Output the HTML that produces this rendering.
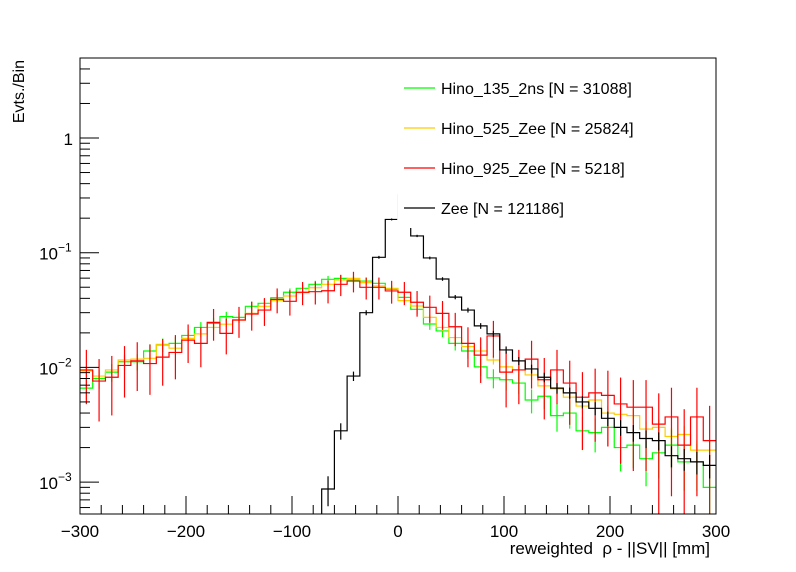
<!DOCTYPE html>
<html><head><meta charset="utf-8">
<style>
html,body{margin:0;padding:0;background:#fff;}
svg{display:block;font-family:"Liberation Sans",sans-serif;}
text{white-space:pre;}
</style></head>
<body>
<svg id="chart" width="796" height="572" viewBox="0 0 796 572" xmlns="http://www.w3.org/2000/svg">
<rect x="0" y="0" width="796" height="572" fill="#fff"/>
<defs><clipPath id="frameClip"><rect x="80" y="58" width="636" height="456"/></clipPath></defs>
<g id="plot" clip-path="url(#frameClip)"></g>
<rect id="legendbg" x="397.2" y="66" width="262" height="162" fill="#fff"/>
<g id="axes"></g>
<g id="legend"></g>
</svg>
<script>
const binEdgesMin = -300, binWidth = 12, nBins = 50;
const seriesNames = ["Hino_135_2ns [N = 31088]","Hino_525_Zee [N = 25824]","Hino_925_Zee [N = 5218]","Zee [N = 121186]"];
const seriesColors = ["#00ff00","#ffcc00","#ff0000","#000000"];
const seriesN = [31088,25824,5218,121186];
const errScale = [3,1.5,3.5,3];
const green = [0.0066,0.0080,0.0091,0.0112,0.0112,0.0139,0.0157,0.0162,0.0190,0.0223,0.0242,0.0277,0.0273,0.0341,0.0362,0.0405,0.0452,0.0489,0.0530,0.0586,0.0597,0.0578,0.0566,0.0541,0.0480,0.0408,0.0321,0.0239,0.0208,0.0162,0.0139,0.0101,0.0081,0.0078,0.0073,0.0052,0.0056,0.0038,0.0040,0.0028,0.0027,0.0030,0.0020,0.0021,0.0016,0.0018,0.0021,0.0015,0.0015,0.0009];
const yellow = [0.0093,0.0084,0.0095,0.0116,0.0118,0.0120,0.0159,0.0147,0.0179,0.0196,0.0223,0.0238,0.0259,0.0296,0.0341,0.0382,0.0419,0.0448,0.0495,0.0530,0.0578,0.0597,0.0548,0.0513,0.0489,0.0382,0.0343,0.0273,0.0223,0.0182,0.0152,0.0139,0.0116,0.0101,0.0095,0.0086,0.0069,0.0065,0.0055,0.0046,0.0052,0.0040,0.0039,0.0038,0.0029,0.0030,0.0025,0.0026,0.0019,0.0019];
const red = [0.0095,0.0076,0.0082,0.0104,0.0114,0.0108,0.0123,0.0135,0.0173,0.0162,0.0247,0.0198,0.0259,0.0292,0.0316,0.0392,0.0377,0.0452,0.0457,0.0466,0.0530,0.0566,0.0499,0.0499,0.0464,0.0452,0.0370,0.0334,0.0296,0.0226,0.0162,0.0128,0.0188,0.0091,0.0095,0.0118,0.0078,0.0095,0.0073,0.0055,0.0060,0.0057,0.0048,0.0045,0.0045,0.0032,0.0037,0.0021,0.0037,0.0023];
const zee = [0,0,0,0,0,0,0,0,0,0,0,0,0,0,0,0,0,0,0,0.00087,0.0028,0.0084,0.0300,0.0912,0.195,0.32,0.140,0.090,0.059,0.041,0.0316,0.0230,0.0196,0.0142,0.0114,0.0097,0.0082,0.0066,0.0060,0.0050,0.0044,0.0036,0.0030,0.0027,0.0024,0.0023,0.0017,0.0016,0.0015,0.0014];
const xTickLabels = ["\u2212300","\u2212200","\u2212100","0","100","200","300"];
const xTickValues = [-300,-200,-100,0,100,200,300];

const NS="http://www.w3.org/2000/svg";
const X0=80,X1=716,Y0=514,Y1=58;
const xMin=-300,xMax=300;
function xs(v){return X0+(v-xMin)/(xMax-xMin)*(X1-X0);}
function ys(v){if(v<=0)return Y0+50;return 138-Math.log10(v)*114.7;}
function mk(tag,attrs,parent){const e=document.createElementNS(NS,tag);for(const k in attrs)e.setAttribute(k,attrs[k]);parent.appendChild(e);return e;}

const plot=document.getElementById('plot');
const allSeries=[green,yellow,red,zee];
allSeries.forEach((vals,si)=>{
  const col=seriesColors[si];
  const g=mk('g',{},plot);
  
  
  let d='';let started=false;
  for(let i=0;i<nBins;i++){
    const xl=xs(binEdgesMin+i*binWidth), xr=xs(binEdgesMin+(i+1)*binWidth);
    const yv=vals[i]>0?ys(vals[i]):Y0+50;
    d+=(started?'L':'M')+xl+' '+yv;started=true;
    d+='L'+xr+' '+yv;
  }
  const p=mk('path',{d:d,fill:'none',stroke:col,'stroke-width':1.2},g);
  
  
  for(let i=0;i<nBins;i++){
    const v=vals[i]; if(v<=0)continue;
    const rel=errScale[si]/Math.sqrt(v*seriesN[si]);
    const hi=v*(1+rel), lo=v*(1-rel);
    const xc=xs(binEdgesMin+(i+0.5)*binWidth);
    const l=mk('line',{x1:xc,x2:xc,y1:ys(hi),y2:lo>0?ys(lo):Y0+10,stroke:col,'stroke-width':1.2},g);
    
    
  }
});

const axes=document.getElementById('axes');
mk('rect',{x:X0,y:Y1,width:X1-X0,height:Y0-Y1,fill:'none',stroke:'#000','stroke-width':1},axes);
for(let v=-300;v<=300;v+=20){
  const major=(v%100===0);
  const x=xs(v);
  mk('line',{x1:x,x2:x,y1:Y0,y2:Y0-(major?18:9),stroke:'#000','stroke-width':1},axes);
}
xTickValues.forEach((v,i)=>{
  const t=mk('text',{x:xs(v),y:537,'font-size':17,'text-anchor':'middle',fill:'#000'},axes);
  t.textContent=xTickLabels[i];
  
  
});
for(let e=-4;e<=1;e++){
  for(let m=1;m<=9;m++){
    const v=m*Math.pow(10,e);
    const y=ys(v);
    if(y>Y0||y<Y1)continue;
    mk('line',{x1:X0,x2:X0+(m===1?19:10),y1:y,y2:y,stroke:'#000','stroke-width':1},axes);
  }
}
const yl=[[1,'1',null],[0.1,'10','\u22121'],[0.01,'10','\u22122'],[0.001,'10','\u22123']];
yl.forEach(a=>{
  const y=ys(a[0]);
  const t=mk('text',{x:a[2]?58:73,y:y+7,'font-size':17,'text-anchor':'end',fill:'#000'},axes);
  t.textContent=a[1];
  
  
  if(a[2]){
    const s=mk('text',{x:58,y:y-1,'font-size':12,'text-anchor':'start',fill:'#000'},axes);
    s.textContent=a[2];
    
    
  }
});
const xt=mk('text',{x:710,y:554,'font-size':17,'text-anchor':'end',fill:'#000'},axes);
xt.textContent='reweighted  \u03c1 - ||SV|| [mm]';


const yt=mk('text',{x:0,y:0,'font-size':16,'text-anchor':'end',fill:'#000',transform:'translate(24,60) rotate(-90)'},axes);
yt.textContent='Evts./Bin';



const legend=document.getElementById('legend');
seriesNames.forEach((n,i)=>{
  const y=88+40*i;
  const g=mk('g',{},legend);
  
  
  mk('line',{x1:404,x2:435,y1:y,y2:y,stroke:seriesColors[i],'stroke-width':1.2},g);
  const t=mk('text',{x:441,y:y+6,'font-size':16,fill:'#000'},g);
  t.textContent=n;
});
</script>
</body></html>
